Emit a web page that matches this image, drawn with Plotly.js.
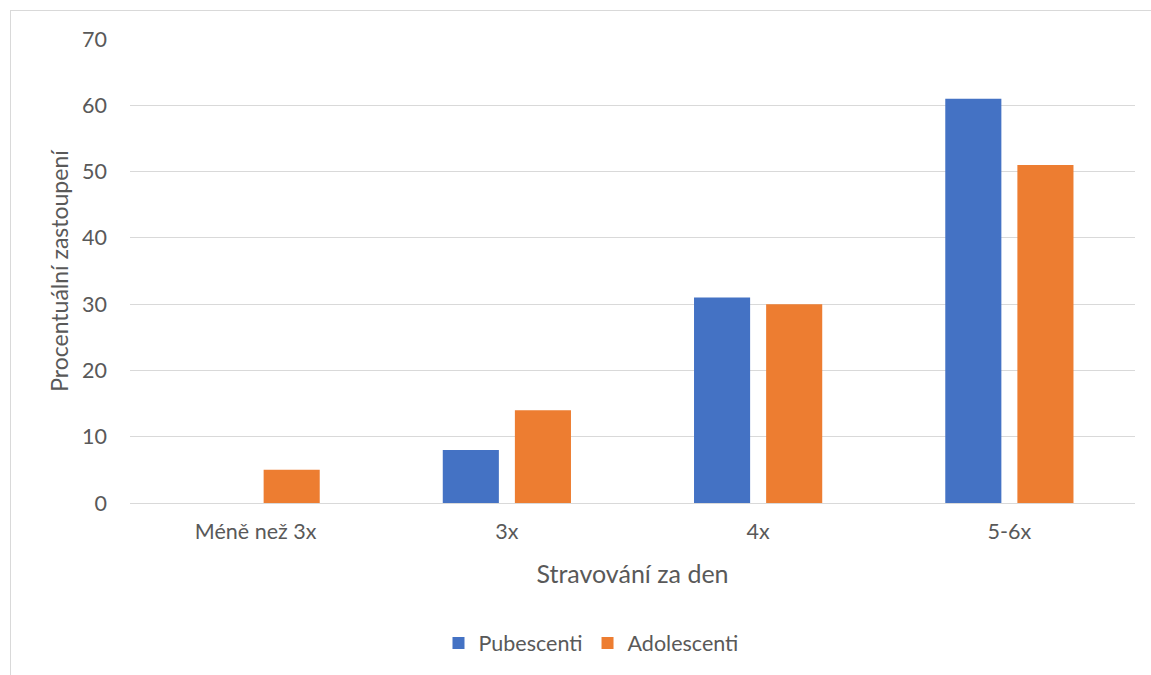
<!DOCTYPE html>
<html>
<head>
<meta charset="utf-8">
<script src="https://cdn.plot.ly/plotly-3.0.1.min.js"></script>
<style>
  html, body { margin: 0; padding: 0; overflow: hidden; background: #fff; }
  #chart { width: 1151px; height: 675px; }
  #frame { position: absolute; left: 10px; top: 10px; width: 1160px; height: 700px;
           border: 1px solid #d9d9d9; pointer-events: none; }
</style>
</head>
<body>
<div id="chart"></div>
<div id="frame"></div>
<script>
// Meals per day vs. share of respondents (%)
const categories = ['Méně než 3x', '3x', '4x', '5-6x'];
const pubescenti = [0, 8, 31, 61];
const adolescenti = [5, 14, 30, 51];
const seriesNames = ['Pubescenti', 'Adolescenti'];
const yTicks = [0, 10, 20, 30, 40, 50, 60, 70];

const fontFamily = 'Lato, "Open Sans", sans-serif';
const textColor = '#595959';

const traces = [
  { type: 'bar', name: seriesNames[0], x: categories, y: pubescenti,
    marker: { color: '#4472c4' }, hoverinfo: 'x+y' },
  { type: 'bar', name: seriesNames[1], x: categories, y: adolescenti,
    marker: { color: '#ed7d31' }, hoverinfo: 'x+y' }
];

const layout = {
  width: 1151, height: 675,
  margin: { l: 130, r: 16, t: 39, b: 172 },
  paper_bgcolor: '#ffffff', plot_bgcolor: '#ffffff',
  font: { family: fontFamily, color: textColor, size: 21 },
  barmode: 'group',
  bargap: 0.426,
  bargroupgap: 0.222,
  showlegend: true,
  legend: {
    orientation: 'h', x: 0.4587, xanchor: 'center', y: -0.302, yanchor: 'middle',
    font: { size: 21.5, color: textColor }, itemwidth: 30, traceorder: 'normal'
  },
  xaxis: {
    type: 'category',
    showgrid: false, zeroline: false, showline: false,
    ticks: '', ticklabelstandoff: 13,
    tickfont: { size: 21.5, color: textColor },
    title: { text: 'Stravování za den', font: { size: 25, color: textColor }, standoff: 22 }
  },
  yaxis: {
    range: [0, 70], tickvals: yTicks,
    showgrid: true, gridcolor: '#d9d9d9', gridwidth: 1,
    zeroline: true, zerolinecolor: '#d9d9d9', zerolinewidth: 1,
    showline: false, ticks: '', ticklabelstandoff: 22,
    tickfont: { size: 21.5, color: textColor },
    title: { text: 'Procentuální zastoupení', font: { size: 23, color: textColor }, standoff: 6 }
  }
};

Plotly.newPlot('chart', traces, layout, { displayModeBar: false, staticPlot: true });
</script>
</body>
</html>
